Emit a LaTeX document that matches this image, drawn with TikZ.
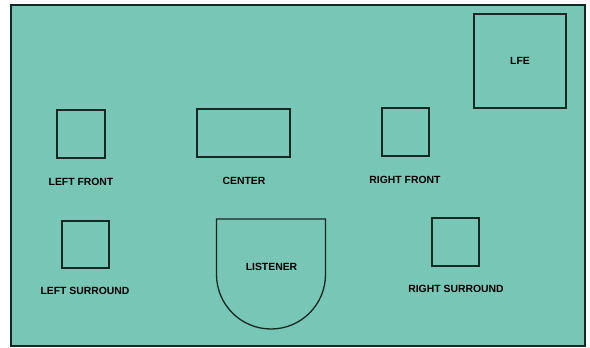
\documentclass[tikz,border=0pt]{standalone}
\usepackage{fontspec}
\setmainfont{Liberation Sans}
\usepackage{xcolor}
\definecolor{roomfill}{RGB}{120,198,182}
\definecolor{inkline}{RGB}{22,40,36}
\tikzset{
    spk/.style={draw=inkline, line width=1.3pt, inner sep=0pt},
    lbl/.style={font=\fontsize{10.4}{12}\selectfont\bfseries, text=black, inner sep=0pt}
}

\begin{document}
\begin{tikzpicture}[x=1pt,y=-1pt]
            \useasboundingbox (0,0) rectangle (590,348);
            % room
            \draw[fill=roomfill, draw=inkline, line width=1.2pt] (11,5) rectangle (585,346);

            % front speakers
            \node[spk, minimum width=48pt, minimum height=48pt] (lf) at (81,134) {};
            \node[lbl] (lflbl) at (81,182) {LEFT FRONT};
            \node[spk, minimum width=93pt, minimum height=48pt] (c) at (243.5,133) {};
            \node[lbl] (clbl) at (244,181) {CENTER};
            \node[spk, minimum width=47pt, minimum height=48pt] (rf) at (405.5,132) {};
            \node[lbl] (rflbl) at (405,180) {RIGHT FRONT};
            \node[spk, minimum width=92pt, minimum height=94pt, font=\fontsize{10.4}{12}\selectfont\bfseries] (lfe) at (520,61) {LFE};

            % surround speakers
            \node[spk, minimum width=47pt, minimum height=47pt] (ls) at (85.5,244.5) {};
            \node[lbl] (lslbl) at (85,291) {LEFT SURROUND};
            \node[spk, minimum width=47pt, minimum height=48pt] (rs) at (455.5,242) {};
            \node[lbl] (rslbl) at (456,289) {RIGHT SURROUND};

            % listener
            \draw[spk] (216.5,219) -- (325.5,219) -- (325.5,274.5) arc (0:180:54.5) -- cycle;
            \node[lbl] (lis) at (271.5,267) {LISTENER};
        \end{tikzpicture}
\end{document}
